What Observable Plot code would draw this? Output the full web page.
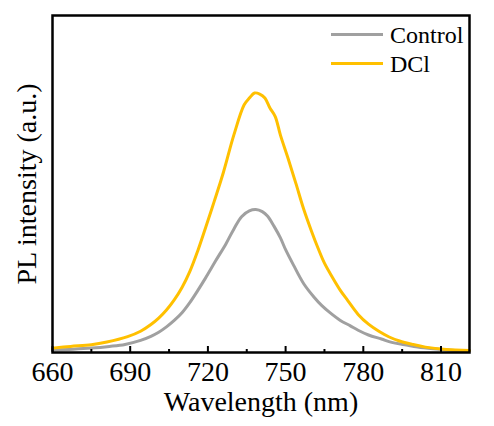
<!DOCTYPE html>
<html>
<head>
<meta charset="utf-8">
<script src="https://cdn.jsdelivr.net/npm/d3@7"></script>
<script src="https://cdn.jsdelivr.net/npm/@observablehq/plot@0.6"></script>
<style>
  html, body { margin: 0; padding: 0; background: #fff; }
  #chart { width: 494px; height: 426px; }
</style>
</head>
<body>
<div id="chart"></div>
<script>
const seriesNames = ["Control", "DCl"];
const seriesColors = ["#a0a0a0", "#ffc000"];

const controlWavelength = [660, 668, 675, 682, 688, 694, 698, 701, 704, 707, 710, 713, 716, 719, 723, 727, 730, 733, 736, 738.5, 741, 743, 745.5, 748, 750, 753, 757, 761, 764, 767, 771, 775, 778, 782, 787, 791, 796, 801, 807, 814, 821];
const controlIntensity = [0.8, 1.0, 1.3, 1.8, 2.4, 3.6, 4.8, 6.0, 7.6, 9.5, 11.8, 14.8, 18.3, 22.0, 27.2, 32.3, 36.6, 40.3, 42.0, 42.4, 41.8, 40.5, 37.5, 34.0, 30.5, 26.0, 20.4, 16.4, 13.9, 11.9, 9.6, 7.9, 6.6, 5.2, 4.0, 3.0, 2.3, 1.6, 1.1, 0.7, 0.5];

const dclWavelength = [660, 667, 675, 681, 689, 694, 698, 701, 704, 707, 710, 713, 716, 719, 722.5, 726, 730, 734, 736, 738, 740, 742, 744, 746, 748, 751, 754, 757, 760, 762.5, 765, 768, 771, 774, 778, 782, 786, 790, 794, 799, 804, 812, 821];
const dclIntensity = [1.3, 1.8, 2.3, 3.1, 4.7, 6.3, 8.3, 10.2, 12.6, 15.6, 19.3, 24.0, 30.0, 36.8, 45.0, 53.5, 64.5, 73.5, 75.5, 77.0, 76.7, 75.5, 72.5, 70.0, 64.5, 57.5, 50.1, 42.5, 36.0, 31.0, 26.5, 22.4, 18.6, 15.4, 11.3, 8.4, 6.3, 4.6, 3.4, 2.4, 1.6, 0.9, 0.6];

const majorTicks = [660, 690, 720, 750, 780, 810];
const minorTicks = [675, 705, 735, 765, 795];
const xDomain = [660, 821];
const yDomain = [0, 100];
const xLabel = "Wavelength (nm)";
const yLabel = "PL intensity (a.u.)";

const data = [
  ...controlWavelength.map((w, i) => ({series: seriesNames[0], w, v: controlIntensity[i]})),
  ...dclWavelength.map((w, i) => ({series: seriesNames[1], w, v: dclIntensity[i]}))
];

const font = "'Liberation Serif', 'Times New Roman', serif";

const chart = Plot.plot({
  width: 494,
  height: 426,
  marginLeft: 52,
  marginRight: 25,
  marginTop: 15,
  marginBottom: 74,
  style: {fontFamily: font, fontSize: "28px", color: "black", background: "white"},
  x: {domain: xDomain},
  y: {domain: yDomain},
  color: {domain: seriesNames, range: seriesColors},
  marks: [
    Plot.line(data, {x: "w", y: "v", z: "series", stroke: "series", strokeWidth: 3, curve: "catmull-rom"}),
    Plot.axisX({ticks: majorTicks, tickSize: -6, tickPadding: 15, strokeWidth: 2, fontSize: 28, label: null}),
    Plot.axisX(minorTicks, {tickSize: -3, tickFormat: () => "", strokeWidth: 2, label: null}),
    Plot.axisY({ticks: [], label: null}),
    Plot.frame({stroke: "black", strokeWidth: 2.5}),
    Plot.text([xLabel], {text: d => d, frameAnchor: "bottom", dy: 58, fontSize: 28}),
    Plot.text([yLabel], {text: d => d, frameAnchor: "left", textAnchor: "middle", dx: -25, rotate: -90, fontSize: 28})
  ]
});

// legend inside the frame (top-right)
const svg = d3.select(chart);
const lg = svg.append("g").attr("font-family", font).attr("font-size", 24).attr("text-anchor", "start");
seriesNames.forEach((name, i) => {
  const y = 34.5 + i * 29;
  lg.append("line").attr("x1", 331).attr("x2", 383).attr("y1", y).attr("y2", y)
    .attr("stroke", seriesColors[i]).attr("stroke-width", 3);
  lg.append("text").attr("x", 390).attr("y", y + 8.5).attr("fill", "black").text(name);
});

document.getElementById("chart").appendChild(chart);
</script>
</body>
</html>
